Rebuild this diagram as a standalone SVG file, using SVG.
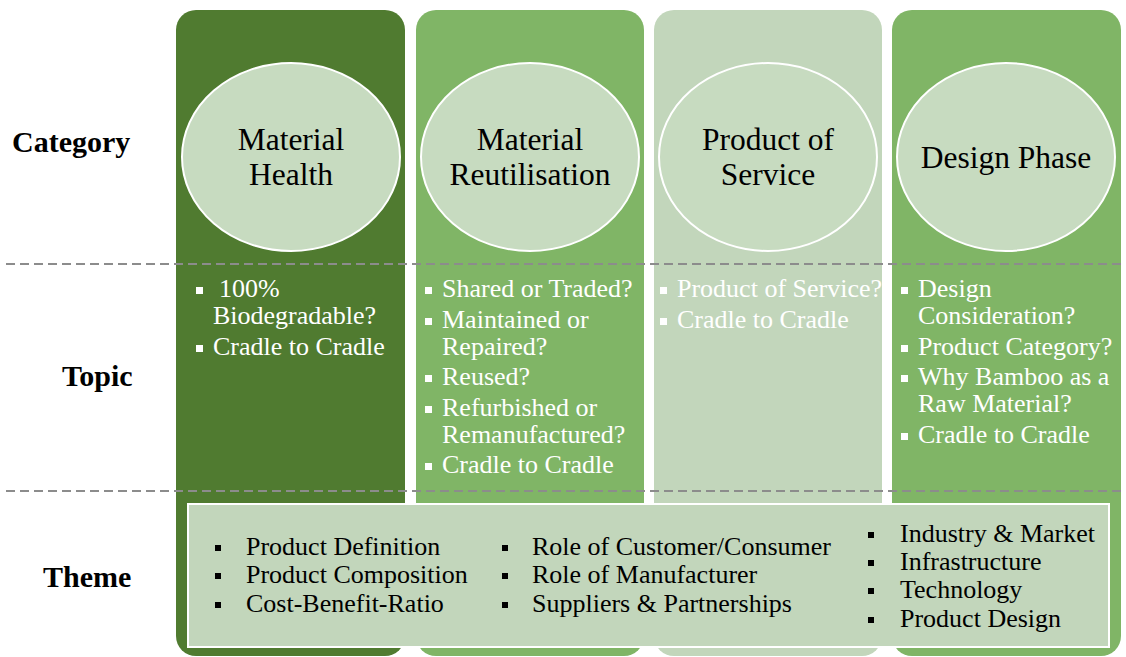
<svg xmlns="http://www.w3.org/2000/svg" width="1126" height="657" viewBox="0 0 1126 657">
<style>
.lbl{font-family:"Liberation Serif",serif;font-weight:bold;font-size:30px;fill:#000}
.cat{font-family:"Liberation Serif",serif;font-size:31.5px;fill:#000;text-anchor:middle}
.top{font-family:"Liberation Serif",serif;font-size:26px;fill:#fff}
.thm{font-family:"Liberation Serif",serif;font-size:26px;fill:#000}
.ell{fill:#c7dbc0;stroke:#fff;stroke-width:2}
.wb{fill:#fff}
.bb{fill:#000}
.dash{stroke:#8c8c8c;stroke-width:2;stroke-dasharray:9 5;fill:none}
</style>
<rect width="1126" height="657" fill="#fff"/>
<g id="col1">
<rect x="176" y="10" width="229" height="646" rx="20" fill="#507b30"/>
<ellipse class="ell" cx="291" cy="157" rx="109" ry="94"/>
<text class="cat" x="291" y="150">Material</text>
<text class="cat" x="291" y="185">Health</text>
<rect class="wb" x="196" y="287" width="7" height="7"/>
<text class="top" x="219" y="297">100%</text>
<text class="top" x="213" y="324">Biodegradable?</text>
<rect class="wb" x="196" y="345" width="7" height="7"/>
<text class="top" x="213" y="355">Cradle to Cradle</text>
</g>
<g id="col2">
<rect x="416" y="10" width="228" height="646" rx="20" fill="#80b566"/>
<ellipse class="ell" cx="530" cy="157" rx="109" ry="94"/>
<text class="cat" x="530" y="150">Material</text>
<text class="cat" x="530" y="185">Reutilisation</text>
<rect class="wb" x="425" y="287" width="7" height="7"/>
<text class="top" x="442" y="297">Shared or Traded?</text>
<rect class="wb" x="425" y="318" width="7" height="7"/>
<text class="top" x="442" y="328">Maintained or</text>
<text class="top" x="442" y="355">Repaired?</text>
<rect class="wb" x="425" y="375" width="7" height="7"/>
<text class="top" x="442" y="385">Reused?</text>
<rect class="wb" x="425" y="406" width="7" height="7"/>
<text class="top" x="442" y="416">Refurbished or</text>
<text class="top" x="442" y="443">Remanufactured?</text>
<rect class="wb" x="425" y="463" width="7" height="7"/>
<text class="top" x="442" y="473">Cradle to Cradle</text>
</g>
<g id="col3">
<rect x="654" y="10" width="228" height="646" rx="20" fill="#c2d6bb"/>
<ellipse class="ell" cx="768" cy="157" rx="109" ry="94"/>
<text class="cat" x="768" y="150">Product of</text>
<text class="cat" x="768" y="185">Service</text>
<rect class="wb" x="660" y="287" width="7" height="7"/>
<text class="top" x="677" y="297">Product of Service?</text>
<rect class="wb" x="660" y="318" width="7" height="7"/>
<text class="top" x="677" y="328">Cradle to Cradle</text>
</g>
<g id="col4">
<rect x="892" y="10" width="229" height="646" rx="20" fill="#80b566"/>
<ellipse class="ell" cx="1006" cy="157" rx="109" ry="94"/>
<text class="cat" x="1006" y="168">Design Phase</text>
<rect class="wb" x="901" y="287" width="7" height="7"/>
<text class="top" x="918" y="297">Design</text>
<text class="top" x="918" y="324">Consideration?</text>
<rect class="wb" x="901" y="345" width="7" height="7"/>
<text class="top" x="918" y="355">Product Category?</text>
<rect class="wb" x="901" y="375" width="7" height="7"/>
<text class="top" x="918" y="385">Why Bamboo as a</text>
<text class="top" x="918" y="412">Raw Material?</text>
<rect class="wb" x="901" y="433" width="7" height="7"/>
<text class="top" x="918" y="443">Cradle to Cradle</text>
</g>
<g id="connectors">
<line class="dash" x1="6" y1="264" x2="1124" y2="264"/>
<line class="dash" x1="6" y1="491" x2="1124" y2="491"/>
</g>
<g id="labels">
<text class="lbl" x="12" y="152">Category</text>
<text class="lbl" x="62" y="386">Topic</text>
<text class="lbl" x="43" y="587">Theme</text>
</g>
<g id="theme">
<rect x="188" y="504" width="921" height="143" fill="#c2d6bb" stroke="#fff" stroke-width="2"/>
<rect class="bb" x="215" y="545" width="6" height="6"/>
<text class="thm" x="246" y="555">Product Definition</text>
<rect class="bb" x="215" y="573" width="6" height="6"/>
<text class="thm" x="246" y="583">Product Composition</text>
<rect class="bb" x="215" y="602" width="6" height="6"/>
<text class="thm" x="246" y="612">Cost-Benefit-Ratio</text>
<rect class="bb" x="502" y="545" width="6" height="6"/>
<text class="thm" x="532" y="555">Role of Customer/Consumer</text>
<rect class="bb" x="502" y="573" width="6" height="6"/>
<text class="thm" x="532" y="583">Role of Manufacturer</text>
<rect class="bb" x="502" y="602" width="6" height="6"/>
<text class="thm" x="532" y="612">Suppliers &amp; Partnerships</text>
<rect class="bb" x="868" y="532" width="6" height="6"/>
<text class="thm" x="900" y="542">Industry &amp; Market</text>
<rect class="bb" x="868" y="560" width="6" height="6"/>
<text class="thm" x="900" y="570">Infrastructure</text>
<rect class="bb" x="868" y="588" width="6" height="6"/>
<text class="thm" x="900" y="598">Technology</text>
<rect class="bb" x="868" y="617" width="6" height="6"/>
<text class="thm" x="900" y="627">Product Design</text>
</g>
</svg>
